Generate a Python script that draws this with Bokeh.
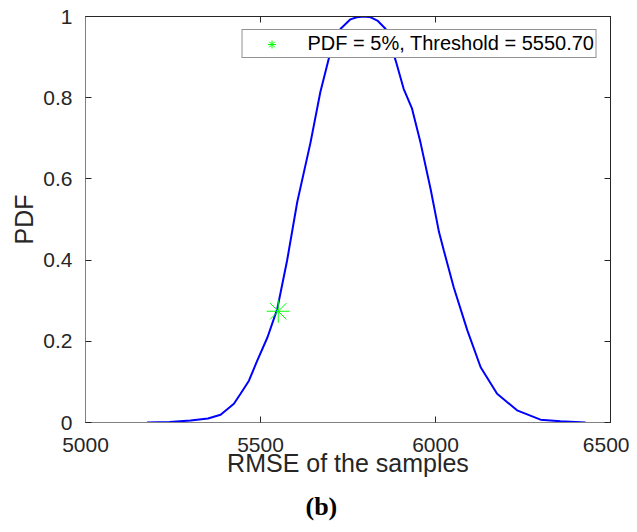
from bokeh.plotting import figure
from bokeh.models import Range1d, FixedTicker, LinearAxis, Legend, LegendItem, Title
from bokeh.embed import file_html
from bokeh.resources import INLINE

# ---- data ----
rmse = [5176, 5240, 5300, 5350, 5386, 5424, 5443, 5467, 5491, 5520, 5548, 5576,
        5605, 5643, 5671, 5695, 5729, 5757, 5775, 5795, 5815, 5834, 5857, 5886, 5909, 5933,
        5957, 5986, 6010, 6024, 6052, 6091, 6129, 6176, 6233, 6300, 6357, 6429]
pdf = [0.0, 0.001, 0.005, 0.010, 0.019, 0.046, 0.071, 0.103, 0.153, 0.21, 0.28, 0.399,
       0.543, 0.690, 0.814, 0.896, 0.970, 0.993, 0.998, 1.0, 0.998, 0.990, 0.970, 0.892, 0.822, 0.773,
       0.690, 0.575, 0.469, 0.423, 0.333, 0.227, 0.136, 0.071, 0.030, 0.007, 0.003, 0.0]
threshold_x = [5550.70]
threshold_y = [0.274]
legend_label = "PDF = 5%, Threshold = 5550.70"
x_ticks = [5000, 5500, 6000, 6500]
y_ticks = [0, 0.2, 0.4, 0.6, 0.8, 1]
y_tick_labels = ["0", "0.2", "0.4", "0.6", "0.8", "1"]
x_title = "RMSE of the samples"
y_title = "PDF"
caption = "(b)"

DARK = "#262626"
GRAY = "#808080"
FONT = "Liberation Sans"

p = figure(output_backend="svg", toolbar_location=None,
           x_range=Range1d(5000, 6500), y_range=Range1d(0, 1),
           frame_width=525, frame_height=406,
           min_border_left=85, min_border_right=19, min_border_top=16, min_border_bottom=102)
p.xgrid.visible = False
p.ygrid.visible = False
p.outline_line_color = DARK
p.outline_line_width = 1
p.background_fill_color = "white"
p.border_fill_color = "white"

p.line(rmse, pdf, line_color="#0000FF", line_width=2)
star = p.scatter(threshold_x, threshold_y, marker="asterisk", size=23,
                 line_color="#00FF00", line_width=1)

def style_axis(ax, line_color):
    ax.axis_line_color = line_color
    ax.major_tick_in = 6
    ax.major_tick_out = 0
    ax.minor_tick_line_color = None
    ax.major_tick_line_color = DARK
    ax.major_label_text_font = FONT
    ax.major_label_text_color = DARK
    ax.major_label_text_font_size = "21px"
    ax.axis_label_text_font = FONT
    ax.axis_label_text_font_style = "normal"
    ax.axis_label_text_color = DARK
    ax.axis_label_text_font_size = "25px"

xa = p.xaxis[0]
style_axis(xa, GRAY)
xa.ticker = FixedTicker(ticks=x_ticks)
xa.major_label_standoff = 15
xa.axis_label = x_title
xa.axis_label_standoff = -6

ya = p.yaxis[0]
style_axis(ya, GRAY)
ya.ticker = FixedTicker(ticks=y_ticks)
ya.major_label_overrides = {t: s for t, s in zip(y_ticks, y_tick_labels)}
ya.major_label_standoff = 13
ya.axis_label = y_title
ya.axis_label_standoff = 2

top = LinearAxis(ticker=FixedTicker(ticks=x_ticks))
style_axis(top, DARK)
top.major_label_text_color = None
top.major_label_text_font_size = "0px"
top.major_label_standoff = 0
p.add_layout(top, "above")

right = LinearAxis(ticker=FixedTicker(ticks=y_ticks))
style_axis(right, DARK)
right.major_label_text_color = None
right.major_label_text_font_size = "0px"
right.major_label_standoff = 0
p.add_layout(right, "right")

legend = Legend(items=[LegendItem(label=legend_label, renderers=[star])],
                location="top_right", margin=13, padding=2, spacing=0,
                glyph_width=54, glyph_height=20, label_height=20, label_standoff=9,
                label_text_font=FONT, label_text_font_size="20px",
                label_text_color="black",
                border_line_color=DARK, border_line_width=1,
                background_fill_color="white", background_fill_alpha=1)
p.add_layout(legend, "center")

p.add_layout(Title(text=caption, align="left", offset=220, standoff=21,
                   text_font="Liberation Serif", text_font_style="bold",
                   text_font_size="26px", text_color="black"), "below")

open("out.html", "w").write(file_html(p, INLINE))
